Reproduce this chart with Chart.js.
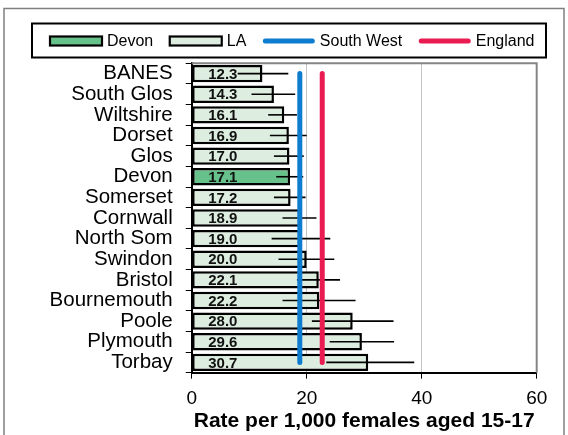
<!DOCTYPE html>
<html>
<head>
<meta charset="utf-8">
<script src="https://cdn.jsdelivr.net/npm/chart.js@4.4.1/dist/chart.umd.min.js"></script>
<style>
  html, body { margin: 0; padding: 0; background: #fff; }
  #wrap { position: relative; width: 568px; height: 435px; }
</style>
</head>
<body>
<div id="wrap"><canvas id="chart"></canvas></div>
<script>
const areas = ["BANES", "South Glos", "Wiltshire", "Dorset", "Glos", "Devon", "Somerset", "Cornwall",
  "North Som", "Swindon", "Bristol", "Bournemouth", "Poole", "Plymouth", "Torbay"];
const rates = [12.3, 14.3, 16.1, 16.9, 17.0, 17.1, 17.2, 18.9, 19.0, 20.0, 22.1, 22.2, 28.0, 29.6, 30.7];
const lowerCI = [8.0, 10.4, 13.3, 13.6, 14.3, 14.7, 14.3, 15.8, 13.9, 15.1, 18.3, 15.8, 20.9, 24.0, 23.4];
const upperCI = [16.8, 18.0, 18.3, 20.0, 19.5, 19.4, 19.8, 21.7, 24.1, 24.8, 25.8, 28.5, 35.1, 35.2, 38.7];
const southWestRate = 18.8;
const englandRate = 22.7;
const xTicks = [0, 20, 40, 60];
const highlightArea = "Devon";
const legendNames = ["Devon", "LA", "South West", "England"];
const xTitle = "Rate per 1,000 females aged 15-17";

const FONT = "'Liberation Sans', Arial, sans-serif";
const DEVON_GREEN = "#66c28a";
const LA_GREEN = "#ddeee0";
const SW_BLUE = "#0e7ccf";
const ENG_RED = "#ea1b50";

// outer frame + plot area top/right border
const framePlugin = {
  id: "frame",
  beforeDraw(chart) {
    const c = chart.ctx;
    c.save();
    c.fillStyle = "#fff";
    c.fillRect(0, 0, chart.width, chart.height);
    c.strokeStyle = "#808080";
    c.lineWidth = 1.5;
    c.strokeRect(4, 8.5, 560, 440);
    c.restore();
  },
  afterDraw(chart) {
    const a = chart.chartArea;
    const c = chart.ctx;
    c.save();
    c.strokeStyle = "#858585";
    c.lineWidth = 2;
    c.beginPath();
    c.moveTo(a.left, a.top);
    c.lineTo(a.right, a.top);
    c.lineTo(a.right, a.bottom);
    c.stroke();
    c.restore();
  },
};

// confidence interval lines, drawn right after the bars
const errorBarPlugin = {
  id: "errorBars",
  afterDatasetDraw(chart, args) {
    if (args.index !== 0) return;
    const x = chart.scales.x;
    const c = chart.ctx;
    c.save();
    c.strokeStyle = "#000";
    c.lineWidth = 1.6;
    args.meta.data.forEach((bar, i) => {
      c.beginPath();
      c.moveTo(x.getPixelForValue(lowerCI[i]), bar.y);
      c.lineTo(x.getPixelForValue(upperCI[i]), bar.y);
      c.stroke();
    });
    c.restore();
  },
};

// value labels inside bars + the boxed legend
const labelPlugin = {
  id: "labels",
  afterDatasetsDraw(chart) {
    const x = chart.scales.x;
    const c = chart.ctx;
    const meta = chart.getDatasetMeta(0);
    c.save();
    c.font = "bold 15px " + FONT;
    c.fillStyle = "#111";
    c.textAlign = "left";
    c.textBaseline = "middle";
    meta.data.forEach((bar, i) => {
      c.fillText(rates[i].toFixed(1), x.getPixelForValue(0) + 16.5, bar.y + 1);
    });
    c.restore();
  },
  afterDraw(chart) {
    const c = chart.ctx;
    c.save();
    c.strokeStyle = "#000";
    c.lineWidth = 2;
    c.strokeRect(32, 23.5, 514, 34);
    c.font = "16px " + FONT;
    c.textBaseline = "middle";
    c.fillStyle = "#000";
    const cy = 41;
    let px = 50;
    legendNames.forEach((name, i) => {
      if (i < 2) {
        c.fillStyle = i === 0 ? DEVON_GREEN : LA_GREEN;
        c.fillRect(px, cy - 4.5, 52, 9);
        c.strokeStyle = "#000";
        c.lineWidth = 2.2;
        c.strokeRect(px, cy - 4.5, 52, 9);
      } else {
        c.strokeStyle = i === 2 ? SW_BLUE : ENG_RED;
        c.lineWidth = 5;
        c.lineCap = "round";
        c.beginPath();
        c.moveTo(px + 2.5, cy);
        c.lineTo(px + 49.5, cy);
        c.stroke();
      }
      px += 57;
      c.fillStyle = "#000";
      c.fillText(name, px, cy + 1);
      px += c.measureText(name).width + 16.5;
    });
    c.restore();
  },
};

new Chart(document.getElementById("chart"), {
  data: {
    labels: areas,
    datasets: [
      {
        type: "bar",
        label: "LA",
        data: rates,
        order: 2,
        backgroundColor: areas.map((a) => (a === highlightArea ? DEVON_GREEN : LA_GREEN)),
        borderColor: "#000",
        borderWidth: 2.5,
        borderSkipped: false,
        barPercentage: 0.84,
        categoryPercentage: 1,
      },
      {
        type: "line",
        label: "South West",
        data: areas.map(() => southWestRate),
        order: 1,
        indexAxis: "y",
        borderColor: SW_BLUE,
        borderWidth: 5,
        borderCapStyle: "round",
        pointRadius: 0,
        fill: false,
      },
      {
        type: "line",
        label: "England",
        data: areas.map(() => englandRate),
        order: 1,
        indexAxis: "y",
        borderColor: ENG_RED,
        borderWidth: 5,
        borderCapStyle: "round",
        pointRadius: 0,
        fill: false,
      },
    ],
  },
  options: {
    indexAxis: "y",
    responsive: true,
    maintainAspectRatio: false,
    animation: false,
    layout: { padding: { top: 63.3, right: 31.3, left: 0, bottom: 0 } },
    plugins: { legend: { display: false }, tooltip: { enabled: false } },
    scales: {
      x: {
        type: "linear",
        min: 0,
        max: 60,
        afterBuildTicks: (s) => { s.ticks = xTicks.map((v) => ({ value: v })); },
        afterFit: (s) => { s.height = 62.3; },
        ticks: { color: "#000", font: { family: FONT, size: 19 }, padding: 9 },
        grid: {
          color: (ctx) => (ctx.tick && ctx.tick.value === 0 ? "rgba(0,0,0,0)" : "#c4c4c4"),
          tickColor: "#000",
          tickLength: 6,
          lineWidth: 1,
        },
        border: { color: "#000", width: 2 },
        title: {
          display: true,
          text: xTitle,
          color: "#000",
          font: { family: FONT, size: 21, weight: "bold" },
          padding: { top: 0, bottom: 1 },
        },
      },
      y: {
        type: "category",
        afterFit: (s) => { s.width = 191.7; },
        ticks: { color: "#000", font: { family: FONT, size: 20.5 }, padding: 13, autoSkip: false },
        grid: { drawOnChartArea: false, tickColor: "#000", tickLength: 6, color: "#000" },
        border: { color: "#000", width: 2 },
      },
    },
  },
  plugins: [framePlugin, errorBarPlugin, labelPlugin],
});
</script>
</body>
</html>
